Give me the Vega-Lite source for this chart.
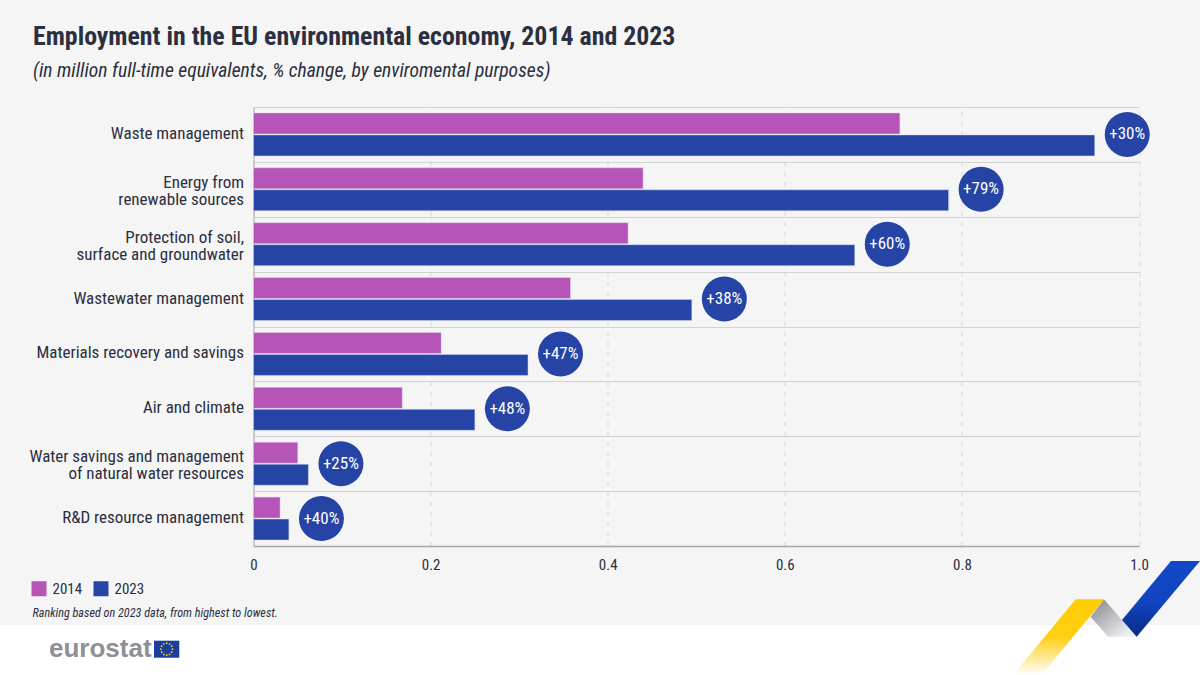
{
  "$schema": "https://vega.github.io/schema/vega-lite/v6.json",
  "width": 885.5,
  "height": 439,
  "autosize": { "type": "none" },
  "padding": { "left": 253.5, "top": 107, "right": 61, "bottom": 129 },
  "background": "#f5f5f6",
  "title": {
    "text": "Employment in the EU environmental economy, 2014 and 2023",
    "subtitle": "(in million full-time equivalents, % change, by enviromental purposes)",
    "anchor": "start",
    "frame": "group",
    "dx": -220.5,
    "offset": 16,
    "font": "Roboto Condensed, Lato",
    "fontSize": 25.85,
    "fontWeight": "bold",
    "color": "#2b2f3e",
    "subtitleFont": "Roboto Condensed, Lato",
    "subtitleFontSize": 19.6,
    "subtitleFontStyle": "italic",
    "subtitleColor": "#2b2f3e",
    "subtitlePadding": 12
  },
  "datasets": {
    "employment": [
      { "purpose": "Waste management", "year": "2014", "fte": 0.73 },
      { "purpose": "Waste management", "year": "2023", "fte": 0.95, "change": "+30%" },
      { "purpose": "Energy from|renewable sources", "year": "2014", "fte": 0.44 },
      { "purpose": "Energy from|renewable sources", "year": "2023", "fte": 0.785, "change": "+79%" },
      { "purpose": "Protection of soil,|surface and groundwater", "year": "2014", "fte": 0.423 },
      { "purpose": "Protection of soil,|surface and groundwater", "year": "2023", "fte": 0.679, "change": "+60%" },
      { "purpose": "Wastewater management", "year": "2014", "fte": 0.358 },
      { "purpose": "Wastewater management", "year": "2023", "fte": 0.495, "change": "+38%" },
      { "purpose": "Materials recovery and savings", "year": "2014", "fte": 0.212 },
      { "purpose": "Materials recovery and savings", "year": "2023", "fte": 0.31, "change": "+47%" },
      { "purpose": "Air and climate", "year": "2014", "fte": 0.168 },
      { "purpose": "Air and climate", "year": "2023", "fte": 0.25, "change": "+48%" },
      { "purpose": "Water savings and management|of natural water resources", "year": "2014", "fte": 0.05 },
      { "purpose": "Water savings and management|of natural water resources", "year": "2023", "fte": 0.062, "change": "+25%" },
      { "purpose": "R&D resource management", "year": "2014", "fte": 0.03 },
      { "purpose": "R&D resource management", "year": "2023", "fte": 0.04, "change": "+40%" }
    ],
    "footer": [
      { "left": 0, "right": 1200, "top": 625, "bottom": 675 }
    ],
    "flag": [
      { "left": 154, "right": 179.3, "top": 640.7, "bottom": 657.7 }
    ],
    "stars": [
      { "x": 166.7, "y": 643.2 }, { "x": 169.6, "y": 644 }, { "x": 171.7, "y": 646.2 },
      { "x": 172.5, "y": 649.2 }, { "x": 171.7, "y": 652.2 }, { "x": 169.6, "y": 654.4 },
      { "x": 166.7, "y": 655.2 }, { "x": 163.8, "y": 654.4 }, { "x": 161.7, "y": 652.2 },
      { "x": 160.9, "y": 649.2 }, { "x": 161.7, "y": 646.2 }, { "x": 163.8, "y": 644 }
    ],
    "logo": [
      { "x": 49, "y": 657, "name": "eurostat" }
    ],
    "grey_ribbon": [
      { "y": 599.3, "x1": 1104, "x2": 1104 },
      { "y": 616.7, "x1": 1090.7, "x2": 1119.2 },
      { "y": 636.7, "x1": 1108, "x2": 1136.7 }
    ],
    "yellow_ribbon": [
      { "y": 599.3, "x1": 1075.7, "x2": 1104 },
      { "y": 675, "x1": 1013, "x2": 1041.7 }
    ],
    "blue_ribbon": [
      { "y": 561, "x1": 1171, "x2": 1200 },
      { "y": 620, "x1": 1122, "x2": 1150.7 },
      { "y": 636.7, "x1": 1136.7, "x2": 1136.7 }
    ]
  },
  "layer": [
    {
      "layer": [
        {
          "data": { "name": "footer" },
          "mark": { "type": "rect", "fill": "#ffffff" },
          "encoding": {
            "x": { "field": "left", "type": "quantitative", "axis": null, "scale": { "domain": [253.5, 1139], "nice": false, "zero": false } },
            "x2": { "field": "right" },
            "y": { "field": "top", "type": "quantitative", "axis": null, "scale": { "domain": [107, 546], "reverse": true, "nice": false, "zero": false } },
            "y2": { "field": "bottom" }
          }
        },
        {
          "data": { "name": "flag" },
          "mark": { "type": "rect", "fill": "#1c3f9e" },
          "encoding": {
            "x": { "field": "left", "type": "quantitative" },
            "x2": { "field": "right" },
            "y": { "field": "top", "type": "quantitative" },
            "y2": { "field": "bottom" }
          }
        },
        {
          "data": { "name": "stars" },
          "mark": { "type": "circle", "size": 3, "color": "#ffd617", "opacity": 1 },
          "encoding": {
            "x": { "field": "x", "type": "quantitative" },
            "y": { "field": "y", "type": "quantitative" }
          }
        },
        {
          "data": { "name": "logo" },
          "mark": { "type": "text", "align": "left", "baseline": "alphabetic", "font": "Liberation Sans", "fontWeight": "bold", "fontSize": 26, "color": "#8d9094" },
          "encoding": {
            "x": { "field": "x", "type": "quantitative" },
            "y": { "field": "y", "type": "quantitative" },
            "text": { "field": "name" }
          }
        },
        {
          "data": { "name": "grey_ribbon" },
          "mark": {
            "type": "area",
            "orient": "horizontal",
            "color": {
              "gradient": "linear", "x1": 0, "y1": 0, "x2": 1, "y2": 1,
              "stops": [ { "offset": 0.1, "color": "#8f9195" }, { "offset": 0.85, "color": "#eceef2" } ]
            }
          },
          "encoding": {
            "y": { "field": "y", "type": "quantitative" },
            "x": { "field": "x1", "type": "quantitative" },
            "x2": { "field": "x2" }
          }
        },
        {
          "data": { "name": "yellow_ribbon" },
          "mark": {
            "type": "area",
            "orient": "horizontal",
            "color": {
              "gradient": "linear", "x1": 0, "y1": 0, "x2": 0, "y2": 1,
              "stops": [ { "offset": 0, "color": "#ffcc00" }, { "offset": 0.5, "color": "#ffcf14" }, { "offset": 1, "color": "#ffffff" } ]
            }
          },
          "encoding": {
            "y": { "field": "y", "type": "quantitative" },
            "x": { "field": "x1", "type": "quantitative" },
            "x2": { "field": "x2" }
          }
        },
        {
          "data": { "name": "blue_ribbon" },
          "mark": {
            "type": "area",
            "orient": "horizontal",
            "color": {
              "gradient": "linear", "x1": 0, "y1": 0, "x2": 0, "y2": 1,
              "stops": [ { "offset": 0, "color": "#1147c9" }, { "offset": 0.55, "color": "#1144c0" }, { "offset": 1, "color": "#0b2a85" } ]
            }
          },
          "encoding": {
            "y": { "field": "y", "type": "quantitative" },
            "x": { "field": "x1", "type": "quantitative" },
            "x2": { "field": "x2" }
          }
        }
      ]
    },
    {
      "data": { "name": "employment" },
      "encoding": {
        "y": {
          "field": "purpose",
          "type": "nominal",
          "sort": null,
          "title": null,
          "scale": { "paddingInner": 0, "paddingOuter": 0 },
          "axis": {
            "orient": "left",
            "labelExpr": "isValid(datum.value) ? split(datum.value, '|') : ''",
            "labelFont": "Roboto Condensed, Lato",
            "labelFontSize": 17,
            "labelColor": "#2b2f3e",
            "labelLineHeight": 17,
            "labelLimit": 260,
            "labelPadding": 10,
            "labelOffset": {
              "condition": { "test": "isValid(datum.value) && indexof(datum.value, '|') >= 0", "value": -7 },
              "value": -1
            },
            "ticks": false,
            "tickBand": "extent",
            "grid": true,
            "gridColor": "#d2d2d2",
            "gridWidth": 1,
            "domainColor": "#a6a6a6",
            "domainWidth": 1
          }
        },
        "x": {
          "field": "fte",
          "type": "quantitative",
          "title": "Ranking based on 2023 data, from highest to lowest.",
          "scale": { "domain": [0, 1], "nice": false },
          "axis": {
            "orient": "bottom",
            "values": [0, 0.2, 0.4, 0.6, 0.8, 1],
            "labelExpr": "datum.value === 0 ? '0' : format(datum.value, '.1f')",
            "labelFont": "Roboto Condensed, Lato",
            "labelFontSize": 15,
            "labelColor": "#2b2f3e",
            "labelPadding": 11,
            "labelFlush": false,
            "ticks": false,
            "grid": true,
            "gridColor": "#d9d9d9",
            "gridDash": [5, 5],
            "domainColor": "#a6a6a6",
            "domainWidth": 1.5,
            "titleFont": "Roboto Condensed, Lato",
            "titleFontSize": 12.2,
            "titleFontStyle": "italic",
            "titleFontWeight": "normal",
            "titleColor": "#2b2f3e",
            "titleAlign": "left",
            "titleBaseline": "alphabetic",
            "titleX": -221.5,
            "titleY": 70
          }
        }
      },
      "layer": [
        {
          "mark": { "type": "bar", "stroke": "#d6dcf0", "strokeWidth": 0.5 },
          "encoding": {
            "yOffset": {
              "field": "year",
              "type": "nominal",
              "scale": { "domain": ["2014", "2023"], "paddingInner": 0.045, "paddingOuter": 0.27 }
            },
            "color": {
              "field": "year",
              "type": "nominal",
              "scale": { "domain": ["2014", "2023"], "range": ["#b754b7", "#2643a6"] },
              "legend": {
                "title": null,
                "orient": "none",
                "legendX": -222,
                "legendY": 474,
                "direction": "horizontal",
                "columns": 2,
                "symbolType": "square",
                "symbolSize": 225,
                "symbolStrokeWidth": 0,
                "labelFont": "Roboto Condensed, Lato",
                "labelFontSize": 15,
                "labelColor": "#2b2f3e",
                "labelOffset": 6,
                "columnPadding": 11
              }
            }
          }
        },
        {
          "transform": [{ "filter": "datum.year === '2023'" }],
          "mark": { "type": "circle", "size": 2025, "color": "#2643a6", "opacity": 1, "xOffset": 32.5 }
        },
        {
          "transform": [{ "filter": "datum.year === '2023'" }],
          "mark": { "type": "text", "dx": 32.5, "font": "Roboto Condensed, Lato", "fontSize": 17, "color": "#ffffff" },
          "encoding": { "text": { "field": "change" } }
        }
      ]
    }
  ],
  "resolve": { "scale": { "x": "independent", "y": "independent" } },
  "config": { "view": { "stroke": null } }
}
